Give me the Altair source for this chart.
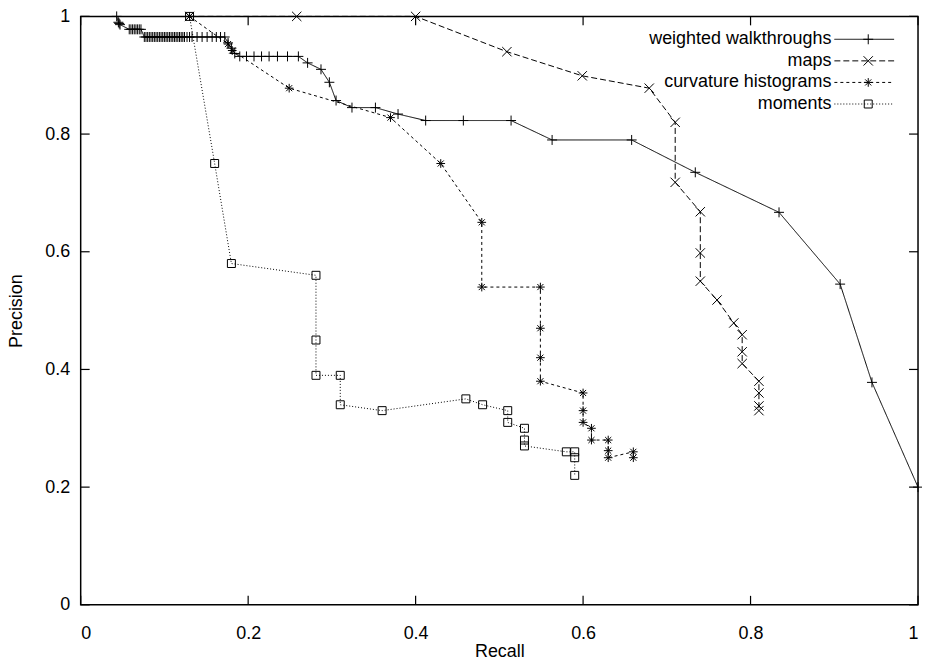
import altair as alt
import pandas as pd

names = ["weighted walkthroughs", "maps", "curvature histograms", "moments"]

ww_recall = [0.043, 0.045, 0.046, 0.047,
             0.058, 0.060, 0.062, 0.064, 0.066, 0.068, 0.070, 0.072,
             0.076, 0.078, 0.080, 0.082, 0.084, 0.086, 0.088, 0.090, 0.092, 0.094,
             0.096, 0.098, 0.100, 0.102, 0.104, 0.106, 0.108, 0.110, 0.112, 0.114,
             0.116, 0.118, 0.120, 0.122, 0.124, 0.127, 0.130, 0.133, 0.139, 0.145,
             0.151, 0.157, 0.162, 0.167, 0.172,
             0.176, 0.180, 0.184,
             0.190, 0.198, 0.207, 0.216, 0.225, 0.235, 0.247, 0.260,
             0.271, 0.287, 0.297, 0.305, 0.324, 0.352, 0.379, 0.412, 0.457, 0.514,
             0.563, 0.658, 0.734, 0.834, 0.907, 0.945, 1.000]
ww_precision = [1.000, 0.990, 0.988, 0.986,
                0.978, 0.978, 0.978, 0.978, 0.978, 0.978, 0.978, 0.978,
                0.965, 0.965, 0.965, 0.965, 0.965, 0.965, 0.965, 0.965, 0.965, 0.965,
                0.965, 0.965, 0.965, 0.965, 0.965, 0.965, 0.965, 0.965, 0.965, 0.965,
                0.965, 0.965, 0.965, 0.965, 0.965, 0.965, 0.965, 0.965, 0.965, 0.965,
                0.965, 0.965, 0.965, 0.965, 0.965,
                0.955, 0.946, 0.937,
                0.932, 0.932, 0.932, 0.932, 0.932, 0.932, 0.932, 0.932,
                0.921, 0.910, 0.888, 0.857, 0.845, 0.845, 0.834, 0.823, 0.823, 0.823,
                0.790, 0.790, 0.735, 0.667, 0.545, 0.378, 0.200]

maps_recall = [0.130, 0.258, 0.400, 0.509, 0.599, 0.679, 0.710, 0.710, 0.740, 0.740,
               0.740, 0.760, 0.780, 0.790, 0.790, 0.790, 0.810, 0.810, 0.810, 0.810]
maps_precision = [1.000, 1.000, 1.000, 0.940, 0.899, 0.878, 0.820, 0.718, 0.668, 0.598,
                  0.550, 0.518, 0.479, 0.459, 0.430, 0.410, 0.380, 0.360, 0.338, 0.330]

curv_recall = [0.130, 0.176, 0.181, 0.249, 0.370, 0.430, 0.479, 0.479, 0.549, 0.549,
               0.549, 0.549, 0.600, 0.600, 0.600, 0.610, 0.610, 0.630, 0.630, 0.630,
               0.660, 0.660]
curv_precision = [1.000, 0.953, 0.942, 0.878, 0.828, 0.750, 0.650, 0.540, 0.540, 0.470,
                  0.420, 0.380, 0.360, 0.330, 0.310, 0.300, 0.280, 0.280, 0.262, 0.250,
                  0.260, 0.250]

mom_recall = [0.130, 0.160, 0.180, 0.281, 0.281, 0.281, 0.310, 0.310, 0.360, 0.460,
              0.480, 0.510, 0.510, 0.530, 0.530, 0.530, 0.580, 0.590, 0.590, 0.590]
mom_precision = [1.000, 0.750, 0.580, 0.560, 0.450, 0.390, 0.390, 0.340, 0.330, 0.350,
                 0.340, 0.330, 0.310, 0.300, 0.280, 0.270, 0.260, 0.260, 0.250, 0.220]

tick_values = [0, 0.2, 0.4, 0.6, 0.8, 1]

W, H = 841, 591
FONT = "Liberation Sans"
TICK = 9

PLUS = "M-1,0L1,0M0,-1L0,1"
CROSS = "M-1,-1L1,1M-1,1L1,-1"
STAR = "M-1,0L1,0M0,-1L0,1M-0.7,-0.7L0.7,0.7M-0.7,0.7L0.7,-0.7"
SQUARE = "M-1,-1L1,-1L1,1L-1,1Z"

rows = []
for name, rs, ps in zip(names,
                        [ww_recall, maps_recall, curv_recall, mom_recall],
                        [ww_precision, maps_precision, curv_precision, mom_precision]):
    for i, (r, p) in enumerate(zip(rs, ps)):
        rows.append({"series": name, "recall": r, "precision": p, "i": i})
df = pd.DataFrame(rows)
ticks_df = pd.DataFrame({"recall": tick_values, "precision": tick_values})
legend_df = pd.DataFrame({"series": names, "row": list(range(len(names)))})

dash = alt.StrokeDash("series:N", scale=alt.Scale(domain=names, range=[[1, 0], [6, 3], [3, 3], [1, 2]]), legend=None)
shape = alt.Shape("series:N", scale=alt.Scale(domain=names, range=[PLUS, CROSS, STAR, SQUARE]), legend=None)
size = alt.Size("series:N", scale=alt.Scale(domain=names, range=[100, 64, 81, 64]), legend=None)

xs = alt.Scale(domain=[0, 1], nice=False, zero=False)
ys = alt.Scale(domain=[0, 1], nice=False, zero=False)

x_axis = alt.Axis(values=tick_values, format="~g", title="Recall", labelPadding=20, titlePadding=0)
y_axis = alt.Axis(values=tick_values, format="~g", title="Precision", labelPadding=11, titlePadding=19)

X = alt.X("recall:Q", scale=xs, axis=x_axis)

base = alt.Chart(df)
lines = base.mark_line(color="black", strokeWidth=1).encode(
    x=X,
    y=alt.Y("precision:Q", scale=ys, axis=y_axis),
    strokeDash=dash,
    detail="series:N",
    order="i:Q",
)
points = base.mark_point(filled=False, color="black", strokeWidth=1, opacity=1).encode(
    x=X,
    y=alt.Y("precision:Q", scale=ys, axis=None),
    shape=shape,
    size=size,
)

tb = alt.Chart(ticks_df)
tick_bottom = tb.mark_rule(color="black", strokeWidth=1.2).encode(
    x=X, y=alt.value(H), y2=alt.value(H - TICK))
tick_top = tb.mark_rule(color="black", strokeWidth=1.2).encode(
    x=X, y=alt.value(0), y2=alt.value(TICK))
tick_left = tb.mark_rule(color="black", strokeWidth=1.2).encode(
    y=alt.Y("precision:Q", scale=ys, axis=None), x=alt.value(0), x2=alt.value(TICK))
tick_right = tb.mark_rule(color="black", strokeWidth=1.2).encode(
    y=alt.Y("precision:Q", scale=ys, axis=None), x=alt.value(W), x2=alt.value(W - TICK))

ly = alt.Y("row:Q", scale=alt.Scale(domain=[0, 3], range=[23, 88]), axis=None)
lb = alt.Chart(legend_df)
leg_text = lb.mark_text(align="right", baseline="middle", font=FONT, fontSize=18, color="black").encode(
    x=alt.value(754), y=ly, text="series:N")
leg_line = lb.mark_rule(color="black", strokeWidth=1).encode(
    x=alt.value(757), x2=alt.value(817), y=ly, strokeDash=dash)
leg_pt = lb.mark_point(filled=False, color="black", strokeWidth=1, opacity=1).encode(
    x=alt.value(791), y=ly, shape=shape, size=size)

chart = alt.layer(
    lines, points, tick_bottom, tick_top, tick_left, tick_right, leg_text, leg_line, leg_pt
).resolve_scale(y="independent").properties(
    width=W, height=H,
    padding={"left": 73, "top": 7, "right": 4, "bottom": 54},
    autosize=alt.AutoSizeParams(type="none"),
    background="white",
).configure_view(
    stroke="black", strokeWidth=1.5
).configure_axis(
    labelFont=FONT, labelFontSize=18, labelColor="black",
    titleFont=FONT, titleFontSize=18, titleFontWeight="normal", titleColor="black",
    domain=False, ticks=False, tickSize=0, grid=False,
)

chart.save("out.html", embed_options={"renderer": "svg", "actions": False})
